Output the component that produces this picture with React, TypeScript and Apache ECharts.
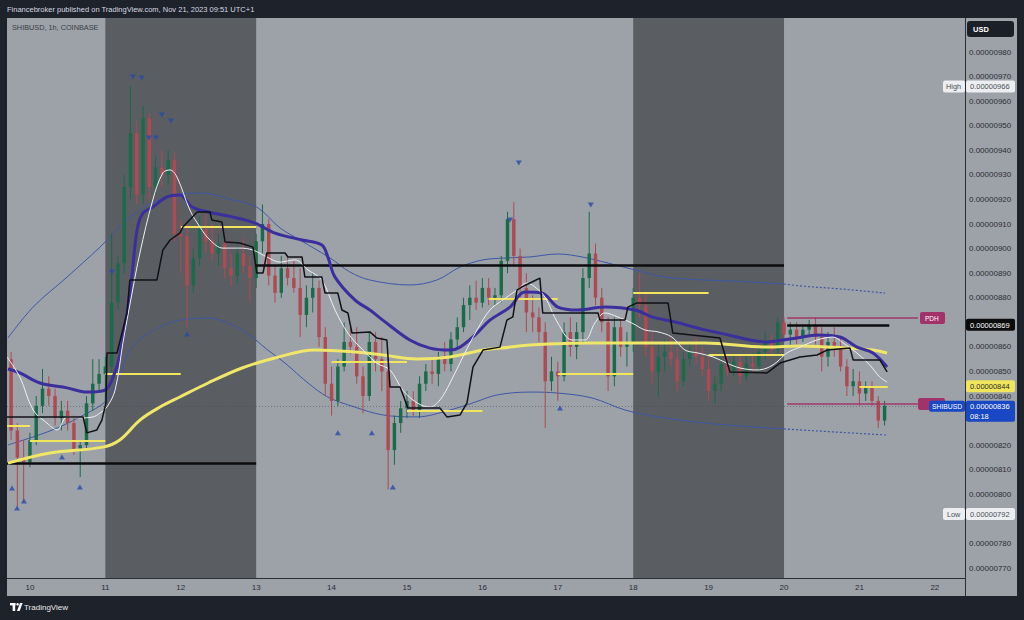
import React, { useEffect, useRef } from 'react';
import * as echarts from 'echarts';

// ---------- DATA (values in units of 1e-8 USD, e.g. 836 = 0.00000836) ----------
// 2-hour candles, first candle centred at hour -6 (hours counted from Nov 10 00:00)
const candleStartHour = -6;
const candleStepHours = 2;
const firstOpen = 855;
const closes = [826,815,813,822,836,843,840,831,834,829,818,820,837,845,849,852,878,894,925,947,
  922,953,925,933,930,936,906,905,885,896,908,903,898,902,892,889,898,893,888,903,
  910,889,882,892,888,884,873,880,884,864,845,838,852,862,860,848,840,862,855,850,
  818,829,835,838,834,845,850,849,856,853,863,868,877,880,878,884,880,881,895,912,
  897,884,874,872,866,846,850,848,866,860,866,888,898,880,870,848,868,860,862,880,
  877,860,850,856,858,855,846,855,858,856,851,842,845,853,850,854,848,853,852,858,
  862,859,870,865,867,864,867,869,864,856,862,860,852,844,846,841,844,838,830,836];
const highs = [858,829,822,825,840,851,848,843,838,838,832,822,840,855,855,856,906,897,930,966,
  952,958,955,938,940,940,939,912,910,900,913,914,910,906,905,898,901,904,897,906,
  918,912,893,897,897,895,892,885,890,887,868,852,855,870,868,868,852,866,866,864,
  855,832,838,842,842,848,853,856,858,862,866,872,880,885,887,888,888,884,897,915,
  919,900,890,881,876,870,856,854,870,872,870,892,915,902,884,872,872,872,866,884,
  890,882,866,862,863,864,860,858,862,864,860,856,848,856,856,857,857,856,857,860,
  866,865,872,872,870,870,869,871,872,868,866,868,864,855,851,850,846,846,840,838];
const lows = [822,795,797,811,820,833,836,828,826,826,816,807,818,834,842,836,846,875,890,920,
  918,918,920,922,925,926,903,890,868,882,893,898,895,893,888,885,886,890,878,884,
  898,885,878,880,885,882,864,868,874,860,840,832,836,850,857,845,833,838,850,842,
  802,812,825,831,832,831,842,845,844,850,850,860,866,871,875,876,877,877,878,890,
  893,880,866,866,862,827,842,838,846,856,855,862,884,877,866,842,844,856,852,858,
  872,856,845,840,850,852,842,844,852,853,848,838,837,842,848,848,845,846,849,850,
  855,856,856,862,860,861,862,864,861,850,852,856,850,840,840,836,838,836,827,828];

// indicator lines: [hour, value]
const ma200 = [[-7.0,812.7],[6.4,816.8],[23.2,819.2],[28.6,822.1],[35.0,830.2],[41.4,835.5],[47.7,839.6],
  [56.7,845.3],[67.5,851.4],[78.0,855.5],[90.7,858.7],[103.4,857.9],[112.3,856.7],[123.2,855.1],
  [133.7,855.9],[144.2,858.7],[152.8,859.9],[159.1,860.8],[178.9,861.6],[192.6,861.6],[214.8,861.6],
  [234.6,859.9],[245.1,860.4],[261.0,859.5],[268.3,858.7],[272.8,857.5]];
const ma50 = [[-7.0,851.0],[-3.2,849.4],[3.2,845.3],[11.8,843.3],[18.1,841.6],[23.9,842.4],[27.1,849.8],
  [28.6,856.7],[30.9,873.8],[32.5,889.3],[34.1,907.6],[36.0,914.5],[39.1,916.9],[43.6,921.0],[47.7,921.8],
  [51.6,916.9],[56.7,914.9],[64.3,912.9],[71.6,910.4],[78.0,906.3],[86.6,903.5],[92.9,901.5],[94.8,896.6],
  [97.1,888.4],[103.4,879.1],[108.2,875.0],[112.3,870.9],[120.9,862.8],[127.3,859.5],[133.7,858.7],
  [136.9,859.9],[142.3,865.6],[146.4,870.9],[152.8,876.2],[157.5,882.3],[162.9,881.9],[168.0,876.2],
  [174.4,875.0],[183.0,876.2],[192.6,875.0],[198.0,872.2],[205.3,870.1],[214.8,866.9],[219.6,865.6],
  [229.2,862.8],[234.6,862.0],[239.7,862.8],[244.1,863.6],[250.5,864.8],[257.8,864.0],[263.2,859.9],
  [268.3,857.5],[272.8,851.8]];
const ema20 = [[-7.3,855.9],[-3.2,847.7],[1.0,834.3],[5.4,829.0],[8.6,826.2],[11.8,831.5],[15.9,831.1],
  [20.1,831.5],[22.3,833.1],[24.5,835.5],[27.1,842.4],[29.6,861.6],[32.5,881.9],[35.0,898.2],[39.1,919.8],
  [42.3,930.8],[44.6,932.0],[46.8,929.1],[50.9,915.7],[54.1,908.8],[57.3,903.5],[61.4,900.2],[66.8,900.2],
  [71.0,899.4],[75.4,896.6],[79.6,894.5],[84.3,895.4],[88.5,891.3],[92.9,887.2],[97.1,875.0],[101.2,865.6],
  [106.0,858.7],[110.4,853.4],[114.6,850.6],[118.7,842.4],[123.2,837.2],[127.3,835.5],[130.5,838.4],
  [133.7,845.3],[137.8,855.9],[142.3,866.9],[146.4,875.0],[150.5,879.1],[155.0,883.1],[158.2,886.0],
  [160.7,884.4],[163.9,880.3],[168.0,869.7],[172.5,862.8],[176.6,862.8],[179.8,869.7],[183.0,873.8],
  [187.1,872.2],[191.6,869.7],[195.7,866.9],[199.9,866.1],[204.3,864.0],[208.5,858.7],[212.6,857.5],
  [217.4,855.9],[221.8,853.4],[226.0,851.4],[231.4,850.6],[234.6,851.4],[237.7,853.8],[240.9,857.5],
  [245.1,859.9],[250.5,862.8],[255.6,864.0],[258.8,861.6],[263.2,857.5],[267.3,852.6],[270.5,847.7],
  [272.8,845.7]];
const baseLine = [[-7.3,831.5],[16.9,831.5],[18.1,825.0],[21.3,826.2],[22.9,830.2],[24.2,837.2],[24.5,857.5],
  [27.7,857.5],[30.9,873.8],[31.8,887.2],[40.4,887.2],[42.3,899.4],[44.6,903.5],[47.7,906.3],[48.7,908.8],
  [53.2,914.9],[57.3,914.9],[57.9,911.6],[61.1,910.8],[62.1,902.7],[66.8,902.3],[71.0,900.6],[72.2,890.1],
  [74.2,890.1],[75.4,898.2],[81.2,898.2],[82.1,896.6],[86.6,896.6],[87.5,888.4],[92.9,888.4],[93.9,881.9],
  [98.0,881.9],[99.3,875.0],[101.2,873.8],[102.5,865.6],[108.2,866.1],[110.4,863.6],[113.6,862.8],
  [114.6,843.7],[117.8,843.7],[120.3,835.1],[130.5,835.1],[132.7,831.5],[136.9,832.3],[139.1,837.2],
  [141.0,851.8],[144.2,858.7],[149.6,859.9],[151.8,870.9],[153.7,872.2],[155.0,883.1],[156.6,884.4],
  [159.8,886.4],[162.3,888.0],[163.2,873.8],[180.8,873.8],[181.4,870.9],[189.4,870.9],[190.3,876.2],
  [193.2,877.9],[203.1,877.9],[204.6,865.6],[219.6,863.6],[222.8,849.8],[234.6,849.4],[238.7,853.4],
  [245.1,855.9],[250.5,856.7],[253.7,858.7],[261.0,859.5],[262.0,854.7],[270.5,854.7],[272.8,849.8]];
const upperBand = [[-7.0,863.6],[1.0,876.2],[11.8,888.4],[22.3,900.6],[32.8,913.7],[43.6,921.0],[54.1,922.6],
  [64.6,919.8],[72.2,916.9],[79.6,908.4],[85.9,903.5],[95.5,896.2],[101.8,890.5],[108.2,887.2],[120.9,885.2],
  [129.5,887.2],[136.9,892.5],[144.2,895.4],[151.8,896.2],[159.1,896.6],[168.0,897.8],[175.7,896.6],
  [184.0,894.1],[192.6,891.3],[202.1,888.4],[214.8,887.2],[223.7,886.8],[234.6,886.0],[240.0,885.6],
  [245.1,884.8],[257.8,883.6],[272.1,881.9]];
const lowerBand = [[-7.0,820.1],[6.4,825.8],[15.9,831.5],[24.5,838.4],[28.6,849.0],[32.8,860.4],[41.4,868.1],
  [47.7,870.9],[56.7,871.7],[67.5,866.9],[75.7,858.7],[81.2,853.4],[88.5,845.3],[94.8,839.6],[103.4,835.5],
  [112.3,832.3],[123.2,831.5],[133.7,834.3],[141.0,837.2],[148.6,840.4],[159.1,841.6],[168.0,841.2],
  [178.9,839.2],[189.4,834.3],[199.9,831.5],[214.8,829.0],[234.6,827.0],[240.0,826.6],[245.1,826.2],
  [255.6,825.4],[272.8,824.1]];
const bandProjectionFrom = 240;

// fractal markers
const fractalHighs = [[26.1,890.5],[32.8,969.8],[35.6,969.4],[37.9,945.0],[40.1,945.0],[42.0,954.4],
  [44.9,951.9],[152.8,911.6],[155.6,934.8],[178.5,917.7]];
const fractalLows = [[-5.7,802.6],[-4.1,794.4],[-1.9,797.3],[10.2,815.2],[15.9,803.0],[50.0,865.2],
  [98.0,825.0],[108.8,825.0],[115.5,803.0],[168.7,835.1]];

// horizontal levels: [fromHour, toHour, value]
const dayLevels = [[-7.3,0,827.8],[0,24,821.7],[24,48,849.0],[48,72,908.8],[96,120,853.8],[120,144,833.9],
  [146,168,879.5],[168,192,849.0],[192,216,881.9],[216,240,856.7],[264,273,843.7]];
const keyLevels = [[-7.3,72,812.7],[72,240,893.3],[241,273.5,869]];
const prevDayLevels = [[241,282.6,871.7],[241,282.6,836.7]];
const weekendRanges = [[24,72],[192,240]];
const lastPrice = 836;
const lastLevelValue = 844;
const sessionHigh = 966;
const sessionLow = 792;

const dayTicks = [0,24,48,72,96,120,144,168,192,216,240,264,288];
const dayNames = ['10','11','12','13','14','15','16','17','18','19','20','21','22'];
// 0.00000870, 0.00000830 and 0.00000790 sit under the price tags in the reference
const priceTicks = [770,780,800,810,820,840,850,860,880,890,900,910,920,930,940,950,960,970,980];

// ---------- STYLE ----------
const LIGHT = '#9da1a8';
const SHADE = '#5a5d62';
const FRAME = '#1e222b';
const AXIS = '#2a2e36';
const TXT = '#2b2f36';
const GREEN = '#1a6b49';
const RED = '#ae4a53';
const FONT = '"Liberation Sans", Arial, sans-serif';

const fmt = (v: number) => '0.00000' + String(v);

export default function App() {
  const ref = useRef<HTMLDivElement>(null);
  useEffect(() => {
    if (!ref.current) return;
    const chart = echarts.init(ref.current, undefined, { renderer: 'svg' });

    const candles = closes.map((c, i) => [
      candleStartHour + candleStepHours * i,
      i === 0 ? firstOpen : closes[i - 1],
      c, lows[i], highs[i],
    ]);

    const segLines = (arr: number[][], color: string, width: number, type: any = 'solid') =>
      arr.map((s) => [
        { coord: [s[0], s[2]], lineStyle: { color, width, type } },
        { coord: [s[1], s[2]] },
      ]);

    const lineSeries = (name: string, data: number[][], color: string, width: number, z: number, extra: any = {}) => ({
      name, type: 'line', data, showSymbol: false, symbol: 'none', smooth: 0.35, z,
      lineStyle: { color, width }, silent: true, clip: true, ...extra,
    });

    const option: any = {
      animation: false,
      backgroundColor: LIGHT,
      grid: { left: 7, right: 59, top: 18, bottom: 42, show: false, containLabel: false },
      xAxis: {
        type: 'value', min: -7.3, max: 297.6,
        axisLine: { show: true, onZero: false, lineStyle: { color: AXIS, width: 1 } },
        axisTick: { show: false }, splitLine: { show: false },
        axisLabel: {
          customValues: dayTicks,
          formatter: (v: number) => dayNames[dayTicks.indexOf(Math.round(v))] ?? '',
          color: TXT, fontSize: 8, fontFamily: FONT, margin: 5,
        },
      },
      yAxis: {
        type: 'value', position: 'right', min: 765.93, max: 993.85, scale: true,
        axisLine: { show: true, onZero: false, lineStyle: { color: AXIS, width: 1 } },
        axisTick: { show: false }, splitLine: { show: false },
        axisLabel: {
          customValues: priceTicks, formatter: (v: number) => fmt(Math.round(v)),
          color: TXT, fontSize: 8, fontFamily: FONT, margin: 4,
        },
      },
      series: [
        {
          name: 'weekend', type: 'line', data: [], z: 0, silent: true,
          markArea: {
            silent: true, itemStyle: { color: SHADE }, label: { show: false },
            data: weekendRanges.map((r) => [{ xAxis: r[0] }, { xAxis: r[1] }]),
          },
          markLine: {
            silent: true, symbol: ['none', 'none'], label: { show: false },
            lineStyle: { color: 'rgba(60,62,70,0.45)', width: 1, type: [1, 2] },
            data: [{ yAxis: lastPrice }],
          },
        },
        lineSeries('upper', upperBand.filter((p) => p[0] <= bandProjectionFrom), '#3f57a6', 1, 1),
        lineSeries('upperProj', upperBand.filter((p) => p[0] >= bandProjectionFrom), '#3f57a6', 1, 1,
          { lineStyle: { color: '#3f57a6', width: 1.2, type: [2, 2] } }),
        lineSeries('lower', lowerBand.filter((p) => p[0] <= bandProjectionFrom), '#3f57a6', 1, 1),
        lineSeries('lowerProj', lowerBand.filter((p) => p[0] >= bandProjectionFrom), '#3f57a6', 1, 1,
          { lineStyle: { color: '#3f57a6', width: 1.2, type: [2, 2] } }),
        {
          name: 'levels', type: 'line', data: [], z: 2, silent: true,
          markLine: {
            silent: true, symbol: ['none', 'none'], label: { show: false },
            data: [
              ...segLines(dayLevels, '#f1e65b', 2),
              ...segLines(prevDayLevels, '#a03a68', 1.5),
            ],
          },
        },
        {
          name: 'candles', type: 'custom', z: 3, data: candles, clip: true, silent: true,
          encode: { x: 0, y: [1, 2, 3, 4] },
          renderItem: (params: any, api: any) => {
            const t = api.value(0), o = api.value(1), c = api.value(2), l = api.value(3), h = api.value(4);
            const pO = api.coord([t, o]);
            const pC = api.coord([t, c]);
            const pL = api.coord([t, l]);
            const pH = api.coord([t, h]);
            const w = api.size([candleStepHours, 0])[0] * 0.55;
            const color = c >= o ? GREEN : RED;
            const top = Math.min(pO[1], pC[1]);
            const hh = Math.max(1, Math.abs(pO[1] - pC[1]));
            return {
              type: 'group',
              children: [
                { type: 'line', shape: { x1: pH[0], y1: pH[1], x2: pL[0], y2: pL[1] }, style: { stroke: color, lineWidth: 1 } },
                { type: 'rect', shape: { x: pO[0] - w / 2, y: top, width: w, height: hh }, style: { fill: color } },
              ],
            };
          },
        },
        {
          name: 'keyLevels', type: 'line', data: [], z: 4, silent: true,
          markLine: {
            silent: true, symbol: ['none', 'none'], label: { show: false },
            data: segLines(keyLevels, '#0c0c0e', 2.5),
          },
        },
        lineSeries('ma200', ma200, '#efe66a', 3, 5),
        lineSeries('ma50', ma50, '#3a2f9c', 3, 5),
        lineSeries('ema20', ema20, '#eef0f3', 1, 6),
        lineSeries('base', baseLine, '#111216', 1.5, 6, { smooth: false }),
        {
          name: 'fractalHigh', type: 'scatter', data: fractalHighs, symbol: 'triangle', symbolRotate: 180,
          symbolSize: [6, 5], itemStyle: { color: '#2b4aa8' }, z: 7, silent: true,
        },
        {
          name: 'fractalLow', type: 'scatter', data: fractalLows, symbol: 'triangle',
          symbolSize: [6, 5], itemStyle: { color: '#2b4aa8' }, z: 7, silent: true,
        },
      ],
    };
    chart.setOption(option);

    const yOf = (v: number) => chart.convertToPixel({ yAxisIndex: 0 }, v) as number;
    const rect = (x: number, y: number, w: number, h: number, fill: string, r = 0, z = 50) =>
      ({ type: 'rect', shape: { x, y, width: w, height: h, r }, style: { fill }, z, silent: true });
    const text = (x: number, y: number, s: string, fill: string, size = 7.5, weight = 'normal', z = 51) =>
      ({ type: 'text', x, y, z, silent: true,
        style: { text: s, fill, fontSize: size, fontFamily: FONT, fontWeight: weight,
          verticalAlign: 'middle', textVerticalAlign: 'middle', align: 'left', textAlign: 'left' } });

    const boxX = 966, boxW = 49, bh = 12;
    const priceBox = (v: number, fill: string, color: string) => {
      const y = yOf(v);
      return [rect(boxX, y - bh / 2, boxW, bh, fill, 2, 60), text(boxX + 4, y + 0.5, fmt(v), color, 7.5, 'normal', 61)];
    };
    const yHigh = yOf(sessionHigh), yLow = yOf(sessionLow), yLast = yOf(lastPrice);
    const yPDH = yOf(prevDayLevels[0][2]), yPDL = yOf(prevDayLevels[1][2]);

    const graphics: any[] = [
      rect(0, 0, 1024, 18, FRAME),
      rect(0, 596, 1024, 24, FRAME),
      rect(0, 0, 7, 620, FRAME),
      rect(1017, 0, 7, 620, FRAME),
      { type: 'line', shape: { x1: 965.5, y1: 578, x2: 965.5, y2: 596 }, style: { stroke: AXIS, lineWidth: 1 }, z: 50 },
      text(7, 9, 'Financebroker published on TradingView.com, Nov 21, 2023 09:51 UTC+1', '#d6d9e0', 7.5),
      text(12, 27, 'SHIBUSD, 1h, COINBASE', '#3a3e46', 7.3),
      // TradingView logo
      rect(10, 603, 5.5, 2.4, '#ffffff', 0, 52),
      rect(12.6, 603, 2.6, 8, '#ffffff', 0, 52),
      { type: 'circle', shape: { cx: 17.6, cy: 604.3, r: 1.3 }, style: { fill: '#ffffff' }, z: 52, silent: true },
      { type: 'polygon', shape: { points: [[20, 603], [22.6, 603], [19.6, 611], [17, 611]] }, style: { fill: '#ffffff' }, z: 52, silent: true },
      text(24, 607, 'TradingView', '#e8eaee', 8),
      // USD box
      rect(967, 21, 47, 16, '#1b1f27', 3, 60),
      text(973, 29, 'USD', '#ffffff', 7.5, 'bold', 61),
      // High
      rect(943, yHigh - bh / 2, 22, bh, '#eceef1', 2, 60),
      text(946, yHigh + 0.5, 'High', '#4a4e56', 7.3, 'normal', 61),
      ...priceBox(sessionHigh, '#eceef1', '#4a4e56'),
      // PDH / PDL tags
      rect(920, yPDH - 6, 25, 12, '#a2326a', 2, 60),
      text(925, yPDH + 0.5, 'PDH', '#ffffff', 6.5, 'normal', 61),
      rect(918, yPDL - 6, 27, 12, '#a2326a', 2, 60),
      // key level box
      ...priceBox(keyLevels[2][2], '#0c0c0e', '#ffffff'),
      // yellow level box
      ...priceBox(lastLevelValue, '#f1e65b', '#2a2a2a'),
      // last price
      rect(929, yLast - 5, 36, 11, '#1a47c4', 2, 62),
      text(932, yLast + 0.5, 'SHIBUSD', '#ffffff', 6.8, 'normal', 63),
      rect(boxX, yLast - 5, boxW, 21, '#1a47c4', 2, 62),
      text(boxX + 4, yLast + 0.5, fmt(lastPrice), '#ffffff', 7.5, 'normal', 63),
      text(boxX + 4, yLast + 10.5, '08:18', '#ffffff', 7.5, 'normal', 63),
      // Low
      rect(943, yLow - bh / 2, 22, bh, '#eceef1', 2, 60),
      text(947, yLow + 0.5, 'Low', '#4a4e56', 7.3, 'normal', 61),
      ...priceBox(sessionLow, '#eceef1', '#4a4e56'),
    ];
    chart.setOption({ graphic: { elements: graphics } });

    return () => chart.dispose();
  }, []);

  return <div ref={ref} style={{ position: 'fixed', left: 0, top: 0, width: 1024, height: 620 }} />;
}
